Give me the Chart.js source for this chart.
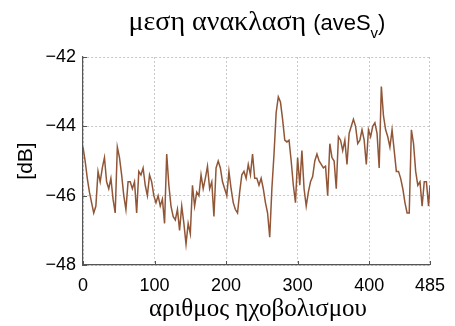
<!DOCTYPE html>
<html>
<head>
<meta charset="utf-8">
<script src="https://cdn.jsdelivr.net/npm/chart.js@4/dist/chart.umd.min.js"></script>
<style>
  html, body { margin: 0; padding: 0; background: #fff; }
  #wrap { position: relative; width: 455px; height: 326px; }
</style>
</head>
<body>
<div id="wrap"><canvas id="chart" width="455" height="326"></canvas></div>
<script>
// mean reflection per ping, read every 3rd ping off the picture (last one is ping 485)
const pingStep = 3;
const lastPing = 485;
const aveSv = [
  -44.6, -45.0, -45.5, -45.9, -46.2, -46.5, -46.3, -45.3, -45.6, -45.2,
  -44.9, -45.6, -45.8, -45.5, -46.1, -46.5, -44.6, -44.9, -45.4, -46.0,
  -46.4, -45.6, -45.6, -45.8, -45.6, -46.5, -45.3, -45.4, -45.2, -45.7,
  -46.0, -45.4, -45.6, -46.0, -46.2, -46.0, -46.3, -46.1, -46.8, -44.8,
  -45.7, -46.3, -46.6, -46.7, -46.4, -47.0, -46.3, -46.8, -47.4, -46.8,
  -47.1, -45.7, -46.3, -45.9, -46.0, -45.4, -45.8, -45.5, -45.15, -45.8,
  -45.6, -46.6, -45.2, -45.0, -45.2, -45.6, -45.8, -46.0, -45.3, -45.8,
  -46.2, -46.4, -46.5, -45.9, -45.4, -45.3, -45.5, -45.1, -45.4, -44.8,
  -45.5, -45.5, -45.7, -45.5, -45.8, -46.2, -46.5, -47.2, -45.8, -44.8,
  -43.6, -43.15, -43.3, -43.8, -44.4, -44.45, -44.4, -45.0, -45.7, -46.2,
  -44.9, -45.7, -44.7, -45.8, -46.3, -45.9, -45.6, -45.45, -45.0, -44.8,
  -45.0, -45.1, -45.2, -45.15, -46.0, -44.5, -44.9, -45.0, -45.8, -44.3,
  -44.4, -44.7, -44.4, -45.1, -44.2, -44.0, -43.8, -44.0, -44.5, -44.4,
  -44.1, -44.4, -45.1, -44.1, -44.3, -44.0, -43.9, -44.2, -45.2, -42.85,
  -43.7, -44.1, -44.3, -44.6, -44.1, -44.7, -45.3, -45.3, -45.5, -45.8,
  -46.2, -46.5, -46.5, -44.1, -44.5, -45.3, -45.7, -45.6, -46.3, -45.6,
  -45.6, -46.3,
  -45.7
];
const xTicks = [0, 100, 200, 300, 400, 485];
const yTicks = [-48, -46, -44, -42];

const lineColor = 'rgb(145, 86, 55)';
const axisColor = '#555';
const gridColor = '#c8c8c8';

function buildPoints() {
  const pts = [];
  for (let i = 0; i < aveSv.length; i++) {
    const x = (i === aveSv.length - 1) ? lastPing : i * pingStep;
    pts.push({x: x, y: aveSv[i]});
  }
  return pts;
}

// title, axis titles and the small inward tick marks
const decorations = {
  id: 'decorations',
  afterDraw(chart) {
    const c = chart.ctx;
    const a = chart.chartArea;
    const xs = chart.scales.x;
    const ys = chart.scales.y;
    c.save();

    // inward ticks
    c.strokeStyle = axisColor;
    c.lineWidth = 1;
    c.beginPath();
    xTicks.forEach(t => {
      const px = Math.round(xs.getPixelForValue(t)) + 0.5;
      c.moveTo(px, a.bottom);
      c.lineTo(px, a.bottom - 4);
    });
    yTicks.forEach(t => {
      const py = Math.round(ys.getPixelForValue(t)) + 0.5;
      c.moveTo(a.left, py);
      c.lineTo(a.left + 4, py);
    });
    c.stroke();

    c.fillStyle = '#000';
    c.textBaseline = 'alphabetic';

    // title: greek part serif, symbol part sans with subscript v
    const greek = 'μεση ανακλαση ';
    const fGreek = '28px "Liberation Serif"';
    const fSans = '22px "Liberation Sans"';
    const fSub = '15px "Liberation Sans"';
    c.font = fGreek; const w1 = c.measureText(greek).width;
    c.font = fSans; const w2 = c.measureText('(aveS').width;
    c.font = fSub; const w3 = c.measureText('v').width;
    c.font = fSans; const w4 = c.measureText(')').width;
    let tx = 257 - (w1 + w2 + w3 + w4) / 2;
    const ty = 30;
    c.textAlign = 'left';
    c.font = fGreek; c.fillText(greek, tx, ty); tx += w1;
    c.font = fSans; c.fillText('(aveS', tx, ty); tx += w2;
    c.font = fSub; c.fillText('v', tx, ty + 8); tx += w3;
    c.font = fSans; c.fillText(')', tx, ty);

    // x axis title
    c.font = '25px "Liberation Serif"';
    c.textAlign = 'center';
    c.fillText('αριθμος ηχοβολισμου', 258, 316);

    // y axis title
    c.save();
    c.translate(32, (a.top + a.bottom) / 2);
    c.rotate(-Math.PI / 2);
    c.font = '21px "Liberation Sans"';
    c.fillText('[dB]', 0, 0);
    c.restore();

    c.restore();
  }
};

function renderChart() {
  const ctx = document.getElementById('chart').getContext('2d');
  new Chart(ctx, {
    type: 'line',
    data: {
      datasets: [{
        label: 'aveSv',
        data: buildPoints(),
        borderColor: lineColor,
        borderWidth: 1.5,
        pointRadius: 0,
        tension: 0,
        fill: false
      }]
    },
    options: {
      responsive: false,
      animation: false,
      layout: { padding: { top: 57, right: 20, bottom: 0, left: 0 } },
      plugins: {
        legend: { display: false },
        title: { display: false },
        tooltip: { enabled: false }
      },
      scales: {
        x: {
          type: 'linear',
          min: 0,
          max: 485,
          afterBuildTicks: scale => { scale.ticks = xTicks.map(v => ({value: v})); },
          afterFit: scale => { scale.height = 61; },
          ticks: {
            color: '#000',
            padding: 10,
            maxRotation: 0,
            autoSkip: false,
            font: { family: 'Liberation Sans', size: 18 }
          },
          grid: {
            color: gridColor,
            lineWidth: 1,
            drawTicks: false,
            tickLength: 0
          },
          // in v4 border.dash styles the grid lines, the axis line stays solid
          border: { display: true, color: axisColor, width: 1.2, dash: [2, 2] }
        },
        y: {
          type: 'linear',
          min: -48,
          max: -42,
          afterBuildTicks: scale => { scale.ticks = yTicks.map(v => ({value: v})); },
          afterFit: scale => { scale.width = 83; },
          ticks: {
            color: '#000',
            padding: 7,
            font: { family: 'Liberation Sans', size: 18 },
            callback: v => '\u2212' + Math.abs(v)
          },
          grid: {
            color: gridColor,
            lineWidth: 1,
            drawTicks: false,
            tickLength: 0
          },
          border: { display: true, color: axisColor, width: 1.2, dash: [2, 2] }
        }
      }
    },
    plugins: [decorations]
  });
}

renderChart();
</script>
</body>
</html>
